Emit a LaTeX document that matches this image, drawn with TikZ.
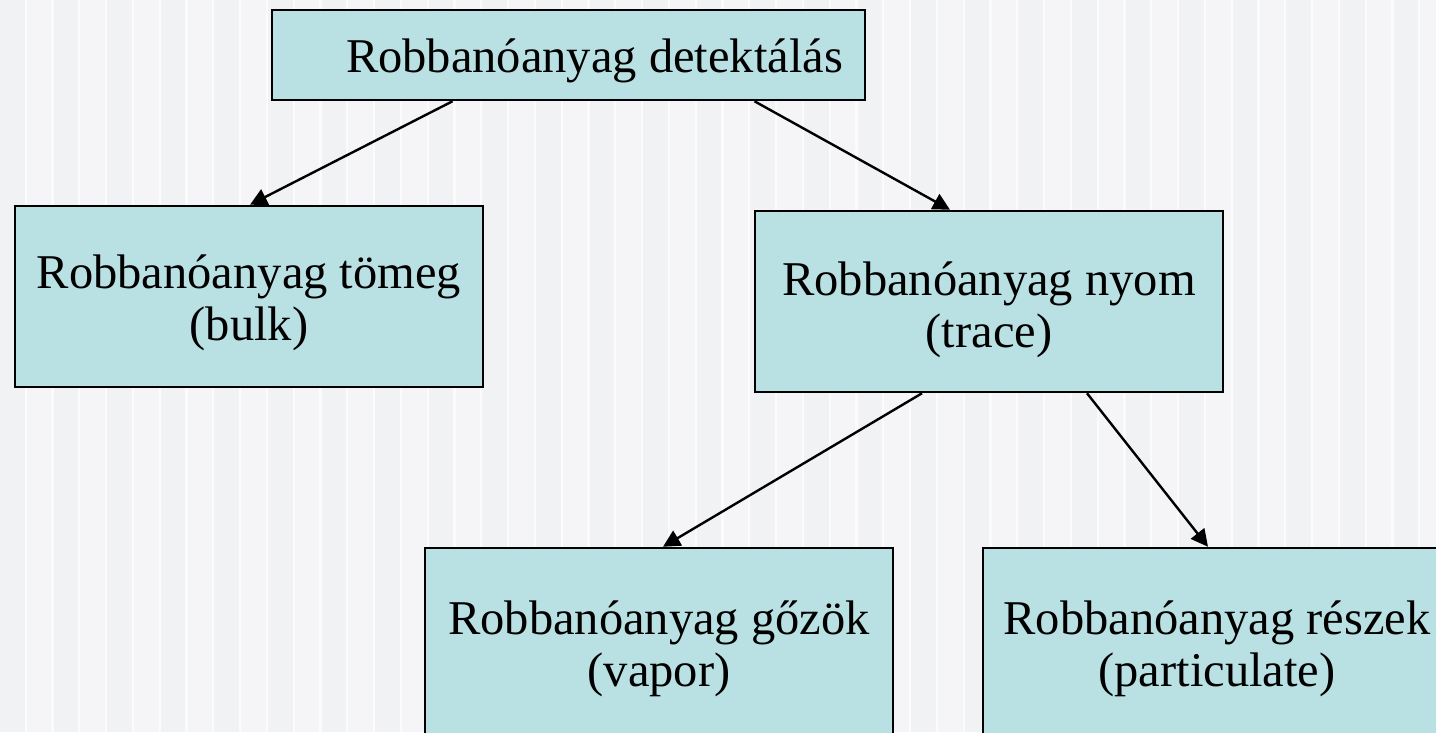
\documentclass[tikz,border=0pt]{standalone}
\usepackage{fontspec}
\setmainfont{Liberation Serif}
\usetikzlibrary{arrows.meta}
\definecolor{boxfill}{RGB}{185,224,227}
\definecolor{bgA}{RGB}{240,242,244}
\definecolor{bgB}{RGB}{245,245,247}
\definecolor{bgLine}{RGB}{251,251,251}
\tikzset{
  box/.style={draw=black, line width=2.5pt, fill=boxfill, minimum width=468pt, minimum height=181pt, inner sep=0pt},
  txt/.style={align=center, font=\fontsize{48.5}{52}\selectfont, inner sep=0pt},
  arr/.style={line width=2.4pt, -{Triangle[length=17pt,width=17pt]}}
}
\begin{document}
\begin{tikzpicture}[x=1pt,y=-1pt]
\useasboundingbox (0,0) rectangle (1436,732);
\clip (0,0) rectangle (1436,732);
\fill[bgLine] (0,0) rectangle (1436,732);
\foreach \i in {0,...,53}{
  \pgfmathsetmacro{\xa}{\i*26.8}
  \ifodd\i
    \fill[bgB] (\xa,0) rectangle ({\xa+24.5},732);
  \else
    \fill[bgA] (\xa,0) rectangle ({\xa+24.5},732);
  \fi
}
\node[box, minimum width=593pt, minimum height=90pt] (top) at (568.5,55) {};
\node[txt] (topT) at ([xshift=26pt,yshift=-5.7pt]top.center) {Robbanóanyag detektálás};
\node[box] (bulk) at (249,296.5) {};
\node[txt] (bulkT) at ([yshift=-6.5pt]bulk.center) {Robbanóanyag tömeg\\(bulk)};
\node[box] (trace) at (989,301.5) {};
\node[txt] (traceT) at ([yshift=-8.5pt]trace.center) {Robbanóanyag nyom\\(trace)};
\node[box, minimum height=192pt] (vapor) at (659,644) {};
\node[txt] (vaporT) at ([yshift=-5pt]vapor.center) {Robbanóanyag gőzök\\(vapor)};
\node[box, minimum height=192pt] (part) at (1217,644) {};
\node[txt] (partT) at ([yshift=-5pt]part.center) {Robbanóanyag részek\\(particulate)};
\draw[arr] ([xshift=-116pt]top.south) -- ([xshift=1pt]bulk.north);
\draw[arr] ([xshift=186pt]top.south) -- ([xshift=-39pt]trace.north);
\draw[arr] ([xshift=-67pt]trace.south) -- ([xshift=4pt]vapor.north);
\draw[arr] ([xshift=98pt]trace.south) -- ([xshift=-9pt]part.north);
\end{tikzpicture}
\end{document}
